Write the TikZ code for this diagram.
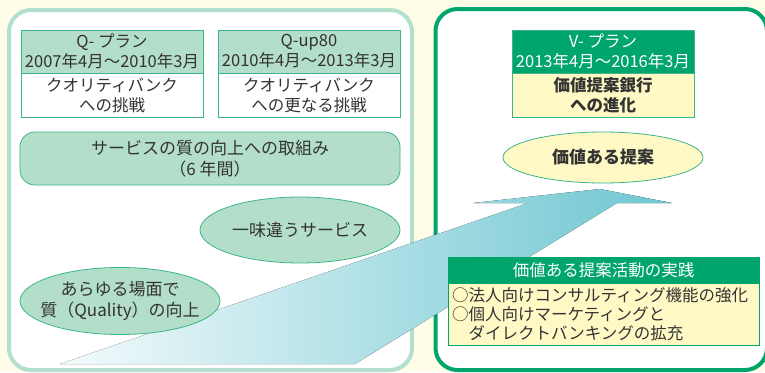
\documentclass[tikz,border=0pt]{standalone}
\usepackage{fontspec}
\setmainfont{Noto Sans CJK JP}
\usetikzlibrary{shapes.geometric}

\definecolor{cream}{HTML}{FFFCE8}
\definecolor{paleframe}{HTML}{B3DFCD}
\definecolor{mint}{HTML}{B3DECA}
\definecolor{mintline}{HTML}{3DB58A}
\definecolor{deepgreen}{HTML}{00A56B}
\definecolor{lemon}{HTML}{FFF9C6}
\definecolor{arrowteal}{HTML}{6EC6D2}
\definecolor{ink}{HTML}{333333}

\tikzset{
  plan/.style={draw=mintline, line width=0.8pt, minimum width=182pt, inner sep=0pt,
    align=center, text=ink, font=\fontsize{16.5}{20}\selectfont},
  planhead/.style={plan, fill=mint, minimum height=43pt},
  planbody/.style={plan, fill=white, minimum height=44pt},
  oval/.style={ellipse, draw=mintline, line width=0.8pt, fill=mint, inner xsep=-14pt, inner ysep=0pt,
    minimum width=200pt, align=center, text=ink, font=\fontsize{17}{21}\selectfont},
  panel/.style={line width=4pt, fill=white, rounded corners=22pt}
}

\begin{document}
\begin{tikzpicture}[x=1pt, y=-1pt]
		\useasboundingbox (0,0) rectangle (765,372);
		\fill[cream] (0,0) rectangle (765,372);

		% the two periods
		\draw[panel, draw=paleframe] (9,10) rectangle (412,370);
		\draw[panel, draw=deepgreen] (435.5,9) rectangle (767,370);

		% big arrow
		\fill[left color=arrowteal!8, right color=arrowteal] (60,364) -- (528,203) -- (473,203) -- (600,189)
			-- (672,203) -- (617,203) -- (355,364) -- cycle;

		\node[planhead] (qhead) at (112,51.5) {Q- プラン\\2007年4月～2010年3月};
		\node[planbody] (qbody) at (112,95) {クオリティバンク\\への挑戦};
		\node[planhead] (uhead) at (309,51.5) {Q-up80\\2010年4月～2013年3月};
		\node[planbody] (ubody) at (309,95) {クオリティバンク\\への更なる挑戦};

		\node[plan, fill=mint, rounded corners=15pt, minimum width=380pt, minimum height=53pt, font=\fontsize{17}{21}\selectfont] (effort) at (210,158.5) {サービスの質の向上への取組み\\（6 年間）};

		\node[oval, minimum height=66pt] (taste) at (300,230) {一味違うサービス};
		\node[oval, minimum height=67pt] (quality) at (120,301) {あらゆる場面で\\質（Quality）の向上};

		\node[planhead, fill=deepgreen, text=white] (vhead) at (603,51.5) {V- プラン\\2013年4月～2016年3月};
		\node[planbody, fill=lemon, font=\fontsize{16.5}{20}\selectfont\bfseries] (vbody) at (603,95) {価値提案銀行\\への進化};
		\node[oval, fill=lemon, minimum height=51pt, font=\fontsize{17}{21}\selectfont\bfseries] (value) at (603,157.5) {価値ある提案};

		\node[plan, draw=deepgreen, fill=deepgreen, text=white, minimum width=311pt, minimum height=26pt, font=\fontsize{16.5}{20}\selectfont] (acthead) at (603.5,270) {価値ある提案活動の実践};
		\node[plan, draw=deepgreen, fill=lemon, minimum width=311pt, minimum height=62pt, text width=303pt, align=left, font=\fontsize{16.5}{19}\selectfont] (actbody) at (603.5,314)
			{○法人向けコンサルティング機能の強化\\○個人向けマーケティングと\\\hspace*{1em}ダイレクトバンキングの拡充};
	\end{tikzpicture}
\end{document}
